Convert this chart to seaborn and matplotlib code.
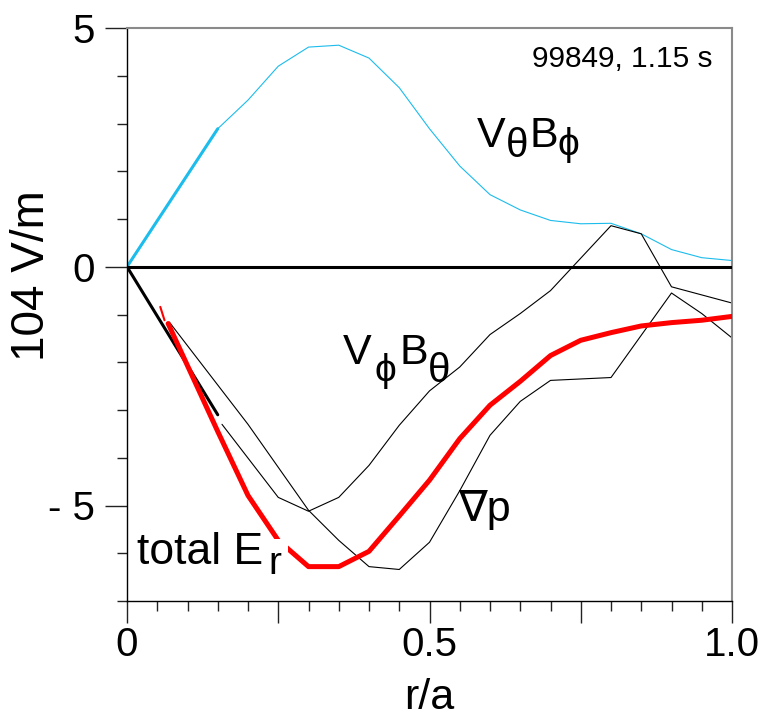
import matplotlib
matplotlib.use("Agg")
import matplotlib.pyplot as plt
import seaborn as sns
import pandas as pd
from matplotlib.ticker import MultipleLocator, FixedLocator

# ---------------- data ----------------
r_vtb_core = [0.0, 0.15]
vtb_core = [0.0, 2.89]
r_vtb = [0.15, 0.20, 0.25, 0.30, 0.35, 0.40, 0.45, 0.50, 0.55, 0.60, 0.65,
         0.70, 0.75, 0.80, 0.85, 0.90, 0.95, 1.00]
vtb = [2.89, 3.49, 4.20, 4.60, 4.64, 4.37, 3.75, 2.89, 2.11, 1.51, 1.19,
       0.97, 0.90, 0.91, 0.69, 0.36, 0.19, 0.13]

r_vpb_core = [0.0, 0.15]
vpb_core = [0.0, -3.10]
r_vpb = [0.157, 0.25, 0.30, 0.35, 0.40, 0.45, 0.50, 0.55, 0.60, 0.65, 0.70,
         0.80, 0.85, 0.90, 1.00]
vpb = [-3.30, -4.83, -5.12, -4.83, -4.16, -3.32, -2.60, -2.10, -1.42, -0.98,
       -0.50, 0.86, 0.69, -0.42, -0.76]

r_gradp = [0.07, 0.20, 0.30, 0.35, 0.40, 0.45, 0.50, 0.55, 0.60, 0.65, 0.70,
           0.80, 0.90, 0.95, 1.00]
gradp = [-1.16, -3.30, -5.10, -5.73, -6.28, -6.34, -5.77, -4.69, -3.53, -2.82,
         -2.38, -2.32, -0.55, -0.98, -1.49]

r_er = [0.068, 0.15, 0.20, 0.25, 0.30, 0.35, 0.40, 0.45, 0.50, 0.55, 0.60,
        0.65, 0.70, 0.75, 0.80, 0.85, 0.90, 0.95, 1.00]
er = [-1.19, -3.45, -4.79, -5.73, -6.28, -6.28, -5.96, -5.22, -4.47, -3.60,
      -2.90, -2.40, -1.86, -1.54, -1.38, -1.24, -1.17, -1.12, -1.04]
r_er_stub = [0.055, 0.062]
er_stub = [-0.84, -1.12]

x_major = [0.0, 0.25, 0.5, 0.75, 1.0]
x_labels = ["0", "", "0.5", "", "1.0"]
y_major = [-5, 0, 5]
y_labels = ["- 5", "0", "5"]

# ---------------- style ----------------
sns.set_theme(style="white")
FAM = ["Liberation Sans", "DejaVu Sans"]
plt.rcParams["font.family"] = FAM
for k in ["text.color", "axes.labelcolor", "xtick.color", "ytick.color"]:
    plt.rcParams[k] = "black"

fig = plt.figure(figsize=(7.68, 7.18), dpi=100)
ax = fig.add_axes([127 / 768, 1 - 601 / 718, (732 - 127) / 768, (601 - 28) / 718])

CYAN = "#1cbcec"

def line(x, y, color, lw, z=2):
    df = pd.DataFrame({"r": x, "v": y})
    sns.lineplot(data=df, x="r", y="v", ax=ax, color=color, linewidth=lw,
                 estimator=None, sort=False, zorder=z)

ax.axhline(0, color="black", lw=2.2, zorder=3)
line(r_vtb_core, vtb_core, CYAN, 2.2)
line(r_vtb, vtb, CYAN, 0.8)
line(r_vpb_core, vpb_core, "black", 2.2)
line(r_vpb, vpb, "black", 0.8)
line(r_gradp, gradp, "black", 0.8)
line(r_er, er, "#ff0000", 3.6, z=4)
line(r_er_stub, er_stub, "#ff0000", 1.5, z=4)

ax.set_xlim(0, 1.0)
ax.set_ylim(-7, 5)
ax.set_xlabel("r/a", fontsize=31, va="top")
ax.set_ylabel("104 V/m", fontsize=33)
ax.xaxis.set_label_coords(0.5, -0.135)
ax.yaxis.set_label_coords(-0.12, 0.567)

ax.xaxis.set_major_locator(FixedLocator(x_major))
ax.set_xticklabels(x_labels)
ax.xaxis.set_minor_locator(MultipleLocator(0.05))
ax.yaxis.set_major_locator(FixedLocator(y_major))
ax.set_yticklabels(y_labels)
ax.yaxis.set_minor_locator(MultipleLocator(1))

ax.tick_params(axis="both", which="major", direction="out", length=16, width=1,
               color="#222222", labelsize=29)
ax.tick_params(axis="both", which="minor", direction="out", length=7, width=1,
               color="#222222")
ax.tick_params(axis="x", which="both", bottom=True, top=False, pad=2)
ax.tick_params(axis="y", which="both", left=True, right=False, pad=7)

for s in ["left", "bottom"]:
    ax.spines[s].set_color("black")
    ax.spines[s].set_linewidth(1.0)
for s in ["top", "right"]:
    ax.spines[s].set_color("#8a8a8a")
    ax.spines[s].set_linewidth(1.5)

# ---------------- labels ----------------
def piece(txt, xy, dx, dy, size, **kw):
    ax.annotate(txt, xy=xy, xycoords="data", xytext=(dx, -dy),
                textcoords="offset pixels", fontsize=size, ha="left",
                va="baseline", family=FAM, **kw)

ax.text(0.968, 4.18, "99849, 1.15 s", fontsize=21.5, ha="right", va="baseline")

a1 = (0.578, 2.51)
piece("V", a1, 0, 0, 31)
piece("\u03b8", a1, 29, 10, 29)
piece("B", a1, 53, 0, 31)
piece("\u03d5", a1, 81, 8, 28)

a2 = (0.357, -2.03)
piece("V", a2, 0, 0, 31)
piece("\u03d5", a2, 32, 17, 28)
piece("B", a2, 57, 0, 31)
piece("\u03b8", a2, 85, 18, 29)

a3 = (0.017, -6.23)
piece("total E", a3, 0, 0, 32, zorder=6,
      bbox=dict(facecolor="white", edgecolor="none", pad=1.5))
piece("r", a3, 131, 10, 28, zorder=5,
      bbox=dict(facecolor="white", edgecolor="none", pad=5))

piece("\u2207p", (0.547, -5.33), 0, 0, 31)

fig.savefig("out.png", dpi=100)
